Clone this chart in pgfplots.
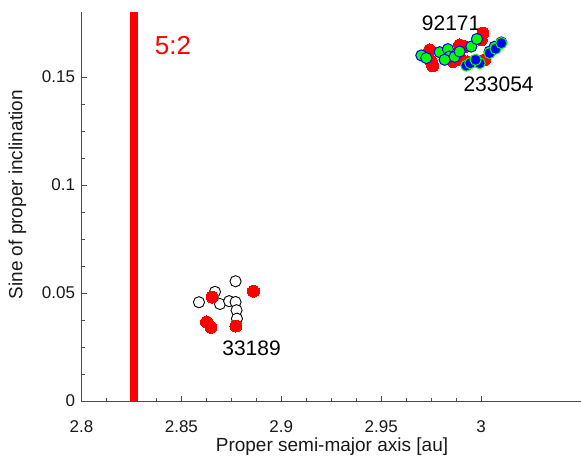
\documentclass[border=0pt]{standalone}
\usepackage{pgfplots}
\pgfplotsset{compat=1.18}
\usepackage{fontspec}
\setmainfont{Liberation Sans}
\begin{document}
\begin{tikzpicture}
\useasboundingbox (0,0) rectangle (581pt,458pt);
\begin{axis}[
  at={(81.5pt,57pt)}, anchor=south west,
  width=499.5pt, height=389pt, scale only axis,
  xmin=2.8, xmax=3.05, ymin=0, ymax=0.18,
  axis lines=left, axis line style={-, black!70},
  xtick={2.8,2.85,2.9,2.95,3}, xticklabels={2.8,2.85,2.9,2.95,3},
  ytick={0,0.05,0.1,0.15}, yticklabels={0,0.05,0.1,0.15},
  minor tick num=3,
  tick align=inside,
  major tick length=5pt, minor tick length=3pt,
  tick style={black!70},
  tick label style={font=\fontsize{17}{20}\selectfont, black!90},
  xticklabel style={yshift=-16pt},
  yticklabel style={xshift=-3pt},
  label style={font=\fontsize{19}{22}\selectfont, black!90},
  xlabel={Proper semi-major axis [au]},
  ylabel={Sine of proper inclination},
  xlabel style={at={(axis description cs:0.5015,-0.118)}, anchor=center},
  ylabel style={at={(axis description cs:-0.128,0.53)}, anchor=center},
  clip=false,
]
\addplot[red, line width=8pt, forget plot] coordinates {(2.8262,0) (2.8262,0.18)};
% family members (open)
\addplot[only marks, mark=*, mark size=5.6pt, mark options={fill=white, draw=black, line width=0.9pt}] coordinates {
(2.8771,0.0554) (2.8668,0.0505) (2.8588,0.0457) (2.8693,0.0449) (2.8739,0.0462)
(2.8771,0.0458) (2.8776,0.0420) (2.8778,0.0381)
};
% red
\addplot[only marks, mark=*, mark size=6pt, mark options={fill=red, draw=red, line width=0pt}] coordinates {
(2.8654,0.0481) (2.8861,0.0508) (2.8626,0.0366) (2.8648,0.0341) (2.8773,0.0347)
(2.97425,0.1625) (2.9751,0.1571) (2.9758,0.1551) (2.98925,0.1648) (2.99175,0.1640)
(3.0009,0.1702) (3.0001,0.1671) (2.9859,0.1571) (2.99025,0.1579) (2.99325,0.1569)
(3.00175,0.1579) (2.98175,0.1606)
};
% green
\addplot[only marks, mark=*, mark size=5.6pt, mark options={fill=green, draw=blue, line width=1pt}] coordinates {
(2.9701,0.1599) (2.9726,0.1587) (2.97925,0.1614) (2.9834,0.1628) (2.98425,0.1594)
(2.98175,0.1579) (2.98675,0.1593) (2.98925,0.1617) (2.9951,0.1640) (2.9979,0.1675)
(3.00425,0.1617) (3.0101,0.1659) (3.00675,0.1639)
};
% blue
\addplot[only marks, mark=*, mark size=5.6pt, mark options={fill=blue, draw=green, line width=1pt}] coordinates {
(2.9926,0.1552) (2.9946,0.1563) (2.99925,0.1563) (2.99725,0.1579) (3.00425,0.1610)
(3.00725,0.1630) (3.0101,0.1656)
};
\node[font=\fontsize{21}{24}\selectfont] at (axis cs:2.985,0.1748) {92171};
\node[font=\fontsize{21}{24}\selectfont] at (axis cs:3.00875,0.1465) {233054};
\node[font=\fontsize{21}{24}\selectfont] at (axis cs:2.8851,0.0244) {33189};
\node[font=\fontsize{26}{29}\selectfont, text=red] at (axis cs:2.84575,0.1644) {5:2};
\end{axis}
\end{tikzpicture}
\end{document}
